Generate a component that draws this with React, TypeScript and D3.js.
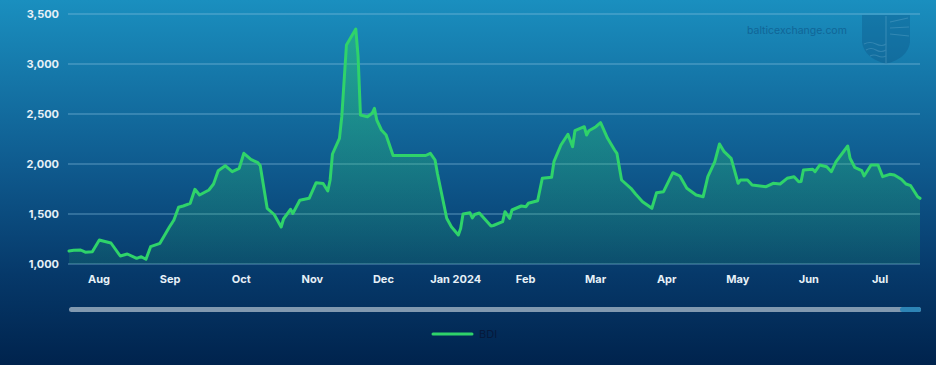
import React from 'react';
import * as d3 from 'd3';

// daily BDI readings
const bdiDates = [
  '2023-08-03', '2023-08-05', '2023-08-08', '2023-08-10', '2023-08-13', '2023-08-16', '2023-08-18', '2023-08-21',
  '2023-08-25', '2023-08-28', '2023-09-01', '2023-09-03', '2023-09-05', '2023-09-07', '2023-09-11', '2023-09-15',
  '2023-09-17', '2023-09-19', '2023-09-21', '2023-09-24', '2023-09-26', '2023-09-28', '2023-10-02', '2023-10-04',
  '2023-10-06', '2023-10-09', '2023-10-12', '2023-10-15', '2023-10-17', '2023-10-20', '2023-10-23', '2023-10-24',
  '2023-10-27', '2023-10-30', '2023-11-02', '2023-11-03', '2023-11-06', '2023-11-07', '2023-11-10', '2023-11-14',
  '2023-11-17', '2023-11-20', '2023-11-22', '2023-11-23', '2023-11-24', '2023-11-27', '2023-11-28', '2023-11-30',
  '2023-12-04', '2023-12-05', '2023-12-06', '2023-12-09', '2023-12-11', '2023-12-12', '2023-12-13', '2023-12-15',
  '2023-12-17', '2023-12-20', '2024-01-03', '2024-01-05', '2024-01-07', '2024-01-08', '2024-01-12', '2024-01-14',
  '2024-01-17', '2024-01-18', '2024-01-19', '2024-01-22', '2024-01-23', '2024-01-24', '2024-01-26', '2024-01-28',
  '2024-01-31', '2024-02-01', '2024-02-05', '2024-02-06', '2024-02-08', '2024-02-09', '2024-02-13', '2024-02-15',
  '2024-02-16', '2024-02-20', '2024-02-22', '2024-02-26', '2024-02-27', '2024-03-01', '2024-03-04', '2024-03-06',
  '2024-03-07', '2024-03-11', '2024-03-12', '2024-03-13', '2024-03-16', '2024-03-18', '2024-03-21', '2024-03-24',
  '2024-03-25', '2024-03-27', '2024-03-31', '2024-04-02', '2024-04-05', '2024-04-09', '2024-04-11', '2024-04-14',
  '2024-04-18', '2024-04-21', '2024-04-24', '2024-04-28', '2024-05-01', '2024-05-03', '2024-05-06', '2024-05-08',
  '2024-05-10', '2024-05-13', '2024-05-16', '2024-05-17', '2024-05-20', '2024-05-22', '2024-05-28', '2024-05-31',
  '2024-06-03', '2024-06-06', '2024-06-09', '2024-06-11', '2024-06-12', '2024-06-13', '2024-06-17', '2024-06-18',
  '2024-06-20', '2024-06-23', '2024-06-25', '2024-06-27', '2024-07-02', '2024-07-03', '2024-07-05', '2024-07-08',
  '2024-07-09', '2024-07-12', '2024-07-15', '2024-07-17', '2024-07-20', '2024-07-22', '2024-07-25', '2024-07-27',
  '2024-07-29', '2024-08-01', '2024-08-02',
];
const bdiValues = [
  1130, 1137, 1140, 1118, 1122, 1240, 1228, 1210,
  1080, 1100, 1057, 1073, 1047, 1173, 1207, 1367,
  1440, 1567, 1580, 1607, 1747, 1690, 1740, 1800,
  1933, 1983, 1923, 1957, 2107, 2047, 2013, 1985,
  1557, 1495, 1370, 1450, 1547, 1505, 1637, 1657,
  1813, 1805, 1730, 1840, 2100, 2257, 2473, 3190,
  3350, 3073, 2490, 2473, 2507, 2557, 2440, 2340,
  2290, 2085, 2085, 2107, 2040, 1907, 1457, 1373,
  1290, 1357, 1500, 1512, 1460, 1495, 1510, 1457,
  1380, 1385, 1423, 1523, 1457, 1540, 1580, 1573,
  1607, 1633, 1857, 1867, 2023, 2190, 2297, 2173,
  2333, 2373, 2290, 2333, 2373, 2413, 2257, 2140,
  2107, 1840, 1757, 1700, 1623, 1557, 1713, 1723,
  1913, 1880, 1757, 1690, 1673, 1873, 2023, 2200,
  2123, 2057, 1807, 1840, 1840, 1790, 1773, 1807,
  1800, 1857, 1873, 1823, 1825, 1940, 1947, 1923,
  1990, 1973, 1923, 2023, 2180, 2057, 1967, 1933,
  1880, 1990, 1990, 1873, 1897, 1890, 1847, 1800,
  1783, 1673, 1657,
];
const yTicks = [1000, 1500, 2000, 2500, 3000, 3500];
const seriesName = 'BDI';

const width = 936;
const height = 365;
const plot = { left: 69, right: 920, top: 14, bottom: 264 };

const parseDate = d3.timeParse('%Y-%m-%d');

export default function App() {
  const data = bdiDates.map((d, i) => ({ date: parseDate(d) as Date, value: bdiValues[i] }));

  // scales
  const x = d3.scaleTime()
    .domain([data[0].date, data[data.length - 1].date])
    .range([plot.left, plot.right]);
  const y = d3.scaleLinear()
    .domain([1000, 3500])
    .range([plot.bottom, plot.top]);

  const line = d3.line<{ date: Date; value: number }>()
    .x(d => x(d.date))
    .y(d => y(d.value));
  const area = d3.area<{ date: Date; value: number }>()
    .x(d => x(d.date))
    .y0(y(1000))
    .y1(d => y(d.value));

  // month labels sit in the middle of each month
  const months = d3.timeMonths(new Date(2023, 7, 1), new Date(2024, 6, 2));
  const fmtMonth = (d: Date) => (d.getMonth() === 0 ? d3.timeFormat('%b %Y')(d) : d3.timeFormat('%b')(d));

  const font = 'Inter, "Open Sans", sans-serif';

  return (
    <svg width={width} height={height} style={{ position: 'absolute', left: 0, top: 0 }}>
      <defs>
        <linearGradient id="bg" x1="0" y1="0" x2="0" y2="1">
          <stop offset="0" stopColor="#1a8fbf" />
          <stop offset="0.45" stopColor="#0f5b8f" />
          <stop offset="0.75" stopColor="#06396a" />
          <stop offset="1" stopColor="#00234d" />
        </linearGradient>
        <linearGradient id="fill" x1="0" y1="0" x2="0" y2="1">
          <stop offset="0" stopColor="#2fd36a" stopOpacity="0.45" />
          <stop offset="1" stopColor="#2fd36a" stopOpacity="0.12" />
        </linearGradient>
      </defs>
      <rect x={0} y={0} width={width} height={height} fill="url(#bg)" />

      {/* watermark */}
      <text x={747} y={34} fontFamily={font} fontSize={10.5} fill="#0b4c7e" opacity={0.55}>balticexchange.com</text>
      <g opacity={0.3} fill="#0b4c7e">
        <path d="M862,15 L910,15 L910,42 Q908,58 886,64 Q864,58 862,42 Z" />
      </g>
      <g opacity={0.22} stroke="#9fd0ea" strokeWidth={1.2} fill="none">
        <path d="M886,16 L886,63" />
        <path d="M864,44 Q870,41 876,44 Q882,47 886,44" />
        <path d="M866,50 Q871,47 876,50 Q881,53 886,50" />
        <path d="M870,56 Q874,54 878,56 Q882,58 886,56" />
        <path d="M890,22 L908,18 M890,28 L909,27 M890,34 L909,36" />
      </g>

      {/* grid */}
      {yTicks.map(t => (
        <g key={t}>
          <line x1={plot.left - 1} x2={plot.right} y1={y(t)} y2={y(t)} stroke="#8fc6e2" strokeOpacity={0.6} strokeWidth={1} />
          <text x={59} y={y(t)} dy="0.35em" textAnchor="end" fontFamily={font} fontSize={11} fontWeight={700} fill="#e6f0f7">
            {d3.format(',')(t)}
          </text>
        </g>
      ))}

      {/* x labels */}
      {months.map(m => {
        const next = d3.timeMonth.offset(m, 1);
        const cx = (x(m) + x(next)) / 2 - 1.5;
        return (
          <text key={m.toISOString()} x={cx} y={279} dy="0.35em" textAnchor="middle" fontFamily={font} fontSize={11} fontWeight={700} fill="#e6f0f7">
            {fmtMonth(m)}
          </text>
        );
      })}

      {/* series */}
      <path d={area(data) || ''} fill="url(#fill)" />
      <path d={line(data) || ''} fill="none" stroke="#2fd36a" strokeWidth={3} strokeLinejoin="round" strokeLinecap="round" />

      {/* scrollbar */}
      <rect x={plot.left} y={307} width={plot.right - plot.left + 1} height={5} rx={2.5} fill="#8199b0" />
      <rect x={900} y={307} width={21} height={5} rx={2.5} fill="#2d84b5" />

      {/* legend */}
      <line x1={433} x2={472} y1={334} y2={334} stroke="#2fd36a" strokeWidth={3} strokeLinecap="round" />
      <text x={479} y={334} dy="0.35em" fontFamily={font} fontSize={11} fill="#06193c">{seriesName}</text>
    </svg>
  );
}
